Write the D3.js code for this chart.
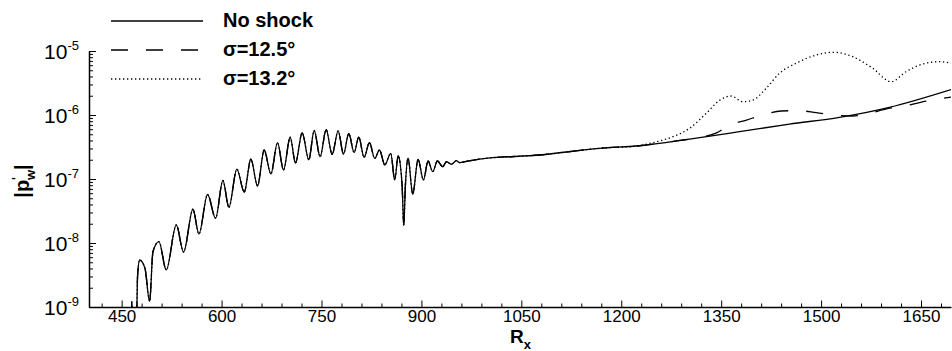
<!DOCTYPE html>
<html>
<head>
<meta charset="utf-8">
<script src="https://d3js.org/d3.v7.min.js"></script>
<style>
    body { margin: 0; background: #fff; }
    svg { display: block; font-family: "Liberation Sans", Arial, sans-serif; }
</style>
</head>
<body>
<script>
"use strict";

///////////////////
// data
///////////////////

// oscillating part, the three curves lie on top of each other here
var rxOsc = [465, 467, 472, 474, 477, 485, 492, 497, 506, 517,
    532, 543, 557, 566, 579, 591, 602, 611, 623, 634,
    644, 654, 664, 674, 684, 693, 703, 711, 721, 731,
    739, 748, 757, 766, 775, 783, 791, 799, 806, 814,
    822, 830, 837, 845, 854, 860, 865, 871, 873.5, 876,
    880, 887, 895, 903, 910, 917, 924, 932, 937.5, 945,
    952.5, 957.5, 967.5];
var pOsc = [1.22e-9, 5e-10, 5e-10, 3.16e-9, 5.42e-9, 4.03e-9, 1.22e-9, 7.3e-9, 1.05e-8, 3.79e-9,
    1.91e-8, 7.23e-9, 3.37e-8, 1.38e-8, 5.73e-8, 2.43e-8, 9.48e-8, 3.61e-8, 1.43e-7, 6.27e-8,
    2.04e-7, 7.83e-8, 2.84e-7, 1.20e-7, 3.69e-7, 1.38e-7, 4.49e-7, 1.78e-7, 5.24e-7, 2.00e-7,
    5.73e-7, 2.23e-7, 5.89e-7, 2.42e-7, 5.66e-7, 2.46e-7, 5.11e-7, 2.60e-7, 4.50e-7, 2.18e-7,
    3.69e-7, 2.10e-7, 2.84e-7, 1.66e-7, 2.52e-7, 9.64e-8, 2.29e-7, 8.05e-8, 1.91e-8, 8.05e-8,
    2.10e-7, 5.83e-8, 2.03e-7, 9.64e-8, 1.91e-7, 1.30e-7, 1.91e-7, 1.56e-7, 1.86e-7, 1.70e-7,
    1.93e-7, 1.80e-7, 1.89e-7];

// no shock
var rxNoShock = [987.5, 1077.5, 1167.5, 1227.5, 1302.5, 1377.5, 1452.5, 1527.5, 1602.5, 1695];
var pNoShock = [2.05e-7, 2.37e-7, 3.02e-7, 3.31e-7, 4.2e-7, 5.48e-7, 7.2e-7, 9.2e-7, 1.32e-6, 2.5e-6];

// sigma = 12.5 deg
var rxS125 = [987.5, 1077.5, 1167.5, 1227.5, 1287.5, 1314.5, 1343, 1362.5, 1388, 1412,
    1440, 1464.5, 1492.7, 1520, 1547, 1572.5, 1599.5, 1622, 1652, 1677.5, 1695];
var pS125 = [2.05e-7, 2.37e-7, 3.02e-7, 3.31e-7, 4.0e-7, 4.4e-7, 5.24e-7, 6.98e-7, 8.35e-7, 1.0e-6,
    1.155e-6, 1.17e-6, 1.09e-6, 1.0e-6, 9.65e-7, 1.06e-6, 1.26e-6, 1.35e-6, 1.61e-6, 1.78e-6, 1.91e-6];

// sigma = 13.2 deg
var rxS132 = [987.5, 1077.5, 1167.5, 1227.5, 1242.5, 1260.5, 1277.5, 1302.5, 1327.5, 1347.5,
    1365, 1382.5, 1397.5, 1417.5, 1437.5, 1462.5, 1492.5, 1520, 1547.5, 1577.5,
    1605, 1627.5, 1652.5, 1677.5, 1695];
var pS132 = [2.05e-7, 2.37e-7, 3.02e-7, 3.33e-7, 3.59e-7, 4.0e-7, 4.58e-7, 6.19e-7, 1.06e-6, 1.69e-6,
    1.98e-6, 1.61e-6, 1.71e-6, 2.61e-6, 4.49e-6, 6.43e-6, 8.66e-6, 9.55e-6, 8.14e-6, 5.37e-6,
    3.31e-6, 4.75e-6, 6.26e-6, 6.81e-6, 6.43e-6];

var legendLabels = ["No shock", "\u03c3=12.5\u00b0", "\u03c3=13.2\u00b0"];
var xMajor = [450, 600, 750, 900, 1050, 1200, 1350, 1500, 1650];
var yMajor = [1e-9, 1e-8, 1e-7, 1e-6, 1e-5];
var yExp = ["-9", "-8", "-7", "-6", "-5"];

///////////////////
// functions
///////////////////

function toPoints(rx, p) {
    return rx.map(function(d, i) { return [d, p[i]]; });
}

(function() {

    var width = 952, height = 351;
    var left = 89, right = 951, top = 51, bottom = 307;

    var x = d3.scaleLinear().domain([401, 1695]).range([left, right]);
    var y = d3.scaleLog().domain([1e-9, 1e-5]).range([bottom, top]);

    var series = [
        {name: legendLabels[0], dash: null, pts: toPoints(rxOsc.concat(rxNoShock), pOsc.concat(pNoShock))},
        {name: legendLabels[1], dash: "17,18", pts: toPoints(rxOsc.concat(rxS125), pOsc.concat(pS125))},
        {name: legendLabels[2], dash: "1.3,2.7", pts: toPoints(rxOsc.concat(rxS132), pOsc.concat(pS132))}
    ];

    var svg = d3.select("body").append("svg")
        .attr("width", width)
        .attr("height", height);

    svg.append("clipPath").attr("id", "clip")
        .append("rect")
        .attr("x", left).attr("y", 0)
        .attr("width", right - left).attr("height", bottom - 0);

    ///////////////////
    // curves
    ///////////////////

    var line = d3.line()
        .x(function(d) { return x(d[0]); })
        .y(function(d) { return y(d[1]); })
        .curve(d3.curveMonotoneX);

    // draw dotted and dashed first, solid on top
    svg.append("g").attr("clip-path", "url(#clip)")
        .selectAll("path")
        .data(series.slice().reverse())
        .enter()
        .append("path")
        .attr("d", function(d) { return line(d.pts); })
        .attr("fill", "none")
        .attr("stroke", "#000")
        .attr("stroke-width", 1.3)
        .attr("stroke-dasharray", function(d) { return d.dash; });

    ///////////////////
    // axes
    ///////////////////

    var xMinor = d3.range(420, 1695, 30).filter(function(v) { return xMajor.indexOf(v) < 0; });
    svg.append("g")
        .attr("transform", "translate(0," + bottom + ")")
        .call(d3.axisBottom(x).tickValues(xMinor).tickSize(-3.5).tickFormat(""))
        .call(function(g) { g.select(".domain").remove(); });

    var gx = svg.append("g")
        .attr("transform", "translate(0," + bottom + ")")
        .call(d3.axisBottom(x).tickValues(xMajor).tickSize(-6.5).tickSizeOuter(0)
            .tickPadding(3).tickFormat(d3.format("d")));
    gx.attr("font-size", null).attr("font-family", null);
    gx.select(".domain").attr("stroke-width", 1.5);
    gx.selectAll("text").style("font-size", "17px").attr("fill", "#000");

    var yMinor = [];
    yMajor.slice(0, -1).forEach(function(v) {
        d3.range(2, 10).forEach(function(k) { yMinor.push(v * k); });
    });
    svg.append("g")
        .attr("transform", "translate(" + left + ",0)")
        .call(d3.axisLeft(y).tickValues(yMinor).tickSize(-4).tickFormat(""))
        .call(function(g) { g.select(".domain").remove(); });

    var gy = svg.append("g")
        .attr("transform", "translate(" + left + ",0)")
        .call(d3.axisLeft(y).tickValues(yMajor).tickSize(-7).tickSizeOuter(0).tickFormat(""));
    gy.select(".domain").attr("stroke-width", 1.5);

    // 10^n labels
    var yl = svg.append("g").selectAll("text")
        .data(yMajor)
        .enter()
        .append("text")
        .attr("x", 79)
        .attr("y", function(d) { return y(d) + 8; })
        .attr("text-anchor", "end")
        .style("font-size", "21px");
    yl.append("tspan").text("10");
    yl.append("tspan")
        .attr("dy", -9)
        .style("font-size", "13px")
        .text(function(d, i) { return yExp[i]; });

    // axis titles
    var xt = svg.append("text")
        .attr("x", 510).attr("y", 343)
        .style("font-weight", "bold").style("font-size", "19px");
    xt.append("tspan").text("R");
    xt.append("tspan").attr("dy", 6).style("font-size", "13px").text("x");

    var yt = svg.append("text")
        .attr("transform", "translate(29,181) rotate(-90)")
        .attr("text-anchor", "middle")
        .style("font-weight", "bold").style("font-size", "20px");
    yt.append("tspan").text("|p");
    yt.append("tspan").attr("dy", -8).style("font-size", "12px").text("'");
    yt.append("tspan").attr("dx", -3).attr("dy", 14).style("font-size", "13px").text("w");
    yt.append("tspan").attr("dy", -6).text("|");

    ///////////////////
    // legend
    ///////////////////

    var lg = svg.append("g").selectAll("g")
        .data(series)
        .enter()
        .append("g")
        .attr("transform", function(d, i) { return "translate(0," + (21 + i * 29) + ")"; });
    lg.append("line")
        .attr("x1", 111).attr("x2", 203)
        .attr("stroke", "#000")
        .attr("stroke-width", 1.3)
        .attr("stroke-dasharray", function(d) { return d.dash; });
    lg.append("text")
        .attr("x", 223).attr("y", 6)
        .style("font-weight", "bold").style("font-size", "20px")
        .text(function(d) { return d.name; });

})();
</script>
</body>
</html>
